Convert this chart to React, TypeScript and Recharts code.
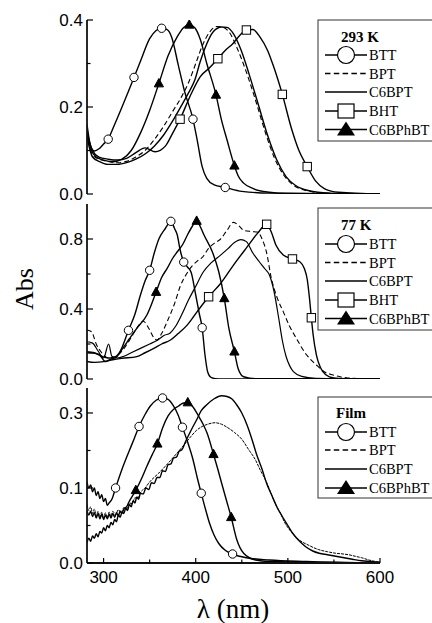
import React from 'react';
import { LineChart, Line, XAxis, YAxis } from 'recharts';

type P = [number, number];

// ---------- axes ----------
const X_DOMAIN: [number, number] = [282, 600];
const X_TICKS = [300, 350, 400, 450, 500, 550, 600];
const X_LABELS = ['300', '', '400', '', '500', '', '600'];

const Y1_TICKS = [0, 0.1, 0.2, 0.3, 0.4];
const Y1_LABELS = ['0.0', '', '0.2', '', '0.4'];
const Y2_TICKS = [0, 0.2, 0.4, 0.6, 0.8];
const Y2_LABELS = ['0.0', '', '0.4', '', '0.8'];
const Y3_TICKS = [0, 0.05, 0.1, 0.15, 0.2];
const Y3_LABELS = ['0.0', '', '0.1', '', '0.3'];

// ---------- 293 K ----------
const BTT_293: P[] = [[282,0.16],[286,0.11],[290,0.099],[295,0.104],[300,0.115],[305,0.126],[310,0.15],[320,0.2],[327,0.236],[333,0.268],[340,0.305],[350,0.357],[357,0.376],[363,0.381],[369,0.378],[374,0.36],[381,0.297],[388,0.235],[397,0.172],[401.5,0.125],[407,0.063],[412,0.036],[420,0.021],[432,0.015],[450,0.006],[480,0.002],[600,0]];
const BTT_293_MARKS = [305, 333, 363, 397, 432];
const BPT_293: P[] = [[282,0.14],[288,0.09],[295,0.08],[305,0.075],[315,0.072],[325,0.075],[335,0.085],[345,0.1],[355,0.125],[365,0.155],[375,0.19],[385,0.225],[392,0.255],[400,0.3],[408,0.345],[415,0.372],[423,0.385],[430,0.383],[437,0.37],[445,0.335],[455,0.28],[465,0.215],[475,0.145],[485,0.085],[495,0.045],[505,0.022],[520,0.008],[540,0.002],[600,0]];
const C6BPT_293: P[] = [[282,0.13],[288,0.085],[295,0.075],[305,0.068],[315,0.068],[325,0.072],[335,0.08],[345,0.092],[355,0.11],[365,0.135],[375,0.168],[385,0.205],[392,0.232],[399,0.262],[405,0.305],[410,0.335],[419,0.373],[428,0.384],[434,0.383],[441,0.368],[449,0.332],[458,0.275],[468,0.205],[478,0.135],[488,0.078],[498,0.04],[508,0.02],[522,0.008],[545,0.002],[600,0]];
const BHT_293: P[] = [[282,0.14],[288,0.1],[295,0.085],[305,0.08],[315,0.078],[325,0.082],[335,0.095],[345,0.106],[356,0.097],[367,0.11],[375,0.14],[383,0.172],[395,0.23],[405,0.27],[415,0.29],[424,0.311],[432,0.33],[440,0.345],[448,0.365],[455,0.377],[462,0.378],[470,0.36],[478,0.33],[485,0.29],[494,0.229],[504,0.15],[512,0.1],[521,0.063],[530,0.03],[540,0.012],[555,0.004],[600,0]];
const BHT_293_MARKS = [383, 424, 455, 494, 521];
const C6BPHBT_293: P[] = [[282,0.15],[286,0.105],[292,0.085],[300,0.078],[310,0.074],[320,0.08],[330,0.1],[340,0.14],[350,0.192],[360,0.254],[370,0.318],[380,0.362],[387,0.383],[393,0.389],[399,0.382],[405,0.355],[412,0.3],[422,0.228],[428,0.17],[434,0.124],[442,0.065],[446,0.042],[452,0.025],[463,0.012],[480,0.004],[500,0.001],[600,0]];
const C6BPHBT_293_MARKS = [360, 393, 422, 442];

// ---------- 77 K ----------
const BTT_77: P[] = [[282,0.15],[288,0.148],[295,0.14],[302,0.1],[308,0.115],[314,0.125],[320,0.18],[327,0.278],[334,0.37],[340,0.48],[345,0.56],[350,0.621],[355,0.72],[360,0.8],[367,0.86],[373,0.901],[377,0.86],[380,0.823],[383,0.74],[387,0.668],[391,0.64],[395,0.61],[400,0.48],[404,0.37],[407,0.293],[410,0.14],[413,0.04],[417,0.008],[425,0.001],[600,0]];
const BTT_77_MARKS = [327, 350, 373, 387, 407];
const BPT_77: P[] = [[282,0.28],[287,0.27],[292,0.2],[298,0.15],[305,0.12],[312,0.125],[320,0.16],[328,0.22],[336,0.29],[343,0.33],[349,0.29],[354,0.24],[358,0.222],[363,0.26],[370,0.34],[377,0.43],[383,0.527],[390,0.6],[396,0.645],[402,0.675],[408,0.7],[413,0.74],[420,0.775],[427,0.8],[434,0.85],[441,0.895],[447,0.875],[452,0.85],[460,0.843],[467,0.84],[472,0.8],[477,0.72],[482,0.577],[488,0.47],[495,0.385],[502,0.3],[509,0.234],[520,0.14],[531,0.08],[540,0.04],[549,0.023],[565,0.006],[600,0]];
const C6BPT_77: P[] = [[282,0.213],[288,0.205],[294,0.16],[300,0.12],[305.5,0.2],[309,0.13],[315,0.12],[322,0.13],[330,0.15],[340,0.175],[350,0.2],[358,0.22],[366,0.25],[372,0.262],[378,0.3],[385,0.37],[392,0.45],[400,0.53],[408,0.61],[417,0.665],[427,0.708],[435,0.745],[442,0.78],[449,0.797],[455,0.785],[462,0.72],[469,0.67],[475,0.63],[480,0.594],[485,0.5],[490,0.35],[494,0.22],[498,0.13],[502,0.075],[506,0.042],[515,0.015],[530,0.004],[600,0]];
const BHT_77: P[] = [[282,0.1],[290,0.095],[300,0.099],[310,0.11],[320,0.118],[336,0.128],[345,0.15],[354.5,0.175],[363,0.2],[372.6,0.223],[381,0.26],[390.7,0.308],[401.6,0.385],[414,0.47],[427,0.546],[441,0.651],[456,0.756],[467,0.832],[477,0.884],[482,0.84],[487,0.766],[495,0.709],[505,0.686],[513,0.67],[518,0.63],[521,0.57],[523.5,0.46],[525.5,0.35],[527.5,0.25],[531,0.137],[535,0.07],[538,0.042],[545,0.012],[555,0.003],[600,0]];
const BHT_77_MARKS = [414, 477, 505, 525.5];
const C6BPHBT_77: P[] = [[282,0.156],[290,0.15],[298,0.13],[305,0.12],[312,0.125],[320,0.17],[328,0.23],[336,0.289],[347,0.366],[357,0.497],[363,0.58],[369,0.632],[375,0.69],[380,0.727],[386,0.77],[391,0.823],[396,0.87],[401,0.903],[405,0.87],[409,0.823],[418,0.727],[425,0.613],[431,0.461],[436,0.289],[442,0.156],[446,0.06],[452,0.013],[465,0.002],[600,0]];
const C6BPHBT_77_MARKS = [357, 401, 431, 442];

// ---------- Film ----------
const BTT_F: P[] = [[282,0.108],[284,0.1],[286,0.104],[288,0.095],[290,0.1],[292,0.09],[294,0.095],[296,0.086],[298,0.091],[300,0.082],[302,0.086],[304,0.077],[306,0.08],[309,0.085],[313,0.1],[320,0.125],[327,0.147],[333,0.165],[338.5,0.182],[345,0.198],[350.5,0.209],[357,0.217],[364,0.22],[370,0.218],[376,0.209],[381,0.197],[385.6,0.181],[391,0.162],[397,0.138],[402,0.112],[406,0.093],[411,0.07],[415,0.053],[420,0.037],[425,0.026],[432,0.017],[440,0.012],[455,0.007],[480,0.004],[520,0.002],[600,0]];
const BTT_F_MARKS = [313, 338.5, 364, 385.6, 406, 440];
const C6BPT_F: P[] = [[282,0.027],[284,0.033],[286,0.029],[288,0.036],[290,0.033],[292,0.039],[294,0.035],[296,0.042],[298,0.04],[300,0.047],[302,0.043],[304,0.05],[306,0.047],[308,0.054],[310,0.051],[312,0.058],[314,0.055],[316,0.064],[318,0.061],[320,0.068],[322,0.066],[324,0.073],[326,0.07],[328,0.078],[330,0.075],[332,0.083],[334,0.08],[336,0.088],[338,0.085],[340,0.093],[343,0.092],[346,0.1],[349,0.098],[352,0.107],[355,0.106],[358,0.114],[361,0.114],[364,0.123],[367,0.122],[370,0.131],[373,0.132],[376,0.14],[379,0.141],[382,0.149],[385,0.151],[389,0.162],[395,0.177],[401,0.191],[406,0.203],[412,0.211],[420,0.219],[428,0.223],[434,0.222],[439,0.219],[445,0.21],[450,0.2],[456,0.183],[461,0.165],[466,0.145],[472,0.125],[477,0.106],[483,0.089],[488,0.075],[494,0.062],[500,0.05],[505,0.04],[512,0.03],[519,0.022],[527,0.016],[534,0.013],[543,0.011],[552,0.009],[561,0.007],[570,0.005],[580,0.003],[590,0.002],[600,0.001]];
const BPT_F: P[] = [[282,0.078],[284,0.07],[286,0.075],[288,0.066],[290,0.072],[292,0.063],[294,0.069],[296,0.061],[298,0.068],[300,0.06],[302,0.067],[304,0.06],[306,0.068],[308,0.062],[310,0.069],[313,0.064],[316,0.071],[319,0.067],[322,0.074],[325,0.072],[328,0.08],[331,0.079],[334,0.087],[337,0.086],[340,0.094],[345,0.1],[350,0.108],[360,0.12],[370,0.133],[380,0.147],[389,0.16],[395,0.169],[401,0.177],[407,0.182],[413,0.185],[421,0.187],[428,0.185],[434,0.181],[442,0.174],[450,0.165],[457,0.152],[465,0.137],[470,0.124],[476,0.11],[481,0.095],[486,0.08],[492,0.066],[497,0.053],[504,0.041],[512,0.031],[522,0.024],[533,0.018],[543,0.015],[552,0.013],[560,0.012],[566,0.011],[573,0.009],[580,0.007],[588,0.004],[595,0.002],[600,0.001]];
const C6BPHBT_F: P[] = [[282,0.07],[284,0.064],[286,0.069],[288,0.062],[290,0.067],[292,0.06],[294,0.066],[296,0.059],[298,0.065],[300,0.058],[302,0.064],[304,0.059],[306,0.065],[308,0.06],[310,0.066],[312,0.061],[314,0.067],[316,0.063],[318,0.069],[320,0.066],[322,0.072],[325,0.075],[327,0.08],[335,0.097],[341,0.112],[347,0.129],[353,0.145],[358.4,0.159],[364,0.18],[370,0.196],[376,0.205],[381,0.209],[386,0.213],[391.4,0.214],[397,0.208],[403,0.196],[408,0.185],[412.4,0.173],[419.3,0.145],[424,0.125],[428,0.107],[433,0.085],[438.5,0.061],[444.6,0.031],[452,0.013],[465,0.004],[480,0.002],[600,0]];
const C6BPHBT_F_MARKS = [335, 358.4, 391.4, 419.3, 438.5];

// ---------- rendering ----------
type Shape = 'circle' | 'square' | 'triangle' | null;
interface Series { name: string; data: P[]; marks: number[]; shape: Shape; dash?: string; width?: number; }

const SANS = 'Liberation Sans, Arial, Helvetica, sans-serif';
const SERIF = 'Liberation Serif, Times New Roman, serif';

function Marker({ shape, cx, cy, s }: { shape: Shape; cx: number; cy: number; s: number }) {
  if (shape === 'circle') return <circle cx={cx} cy={cy} r={s} fill="#fff" stroke="#000" strokeWidth={1} />;
  if (shape === 'square') return <rect x={cx - s} y={cy - s} width={2 * s} height={2 * s} fill="#fff" stroke="#000" strokeWidth={1} />;
  if (shape === 'triangle') {
    const h = s * 2;
    return <polygon points={`${cx},${cy - h * 0.6} ${cx - s * 1.1},${cy + h * 0.4} ${cx + s * 1.1},${cy + h * 0.4}`} fill="#000" stroke="#000" strokeWidth={1} />;
  }
  return null;
}

const makeDot = (marks: number[], shape: Shape) => (props: any) => {
  const { cx, cy, payload, index } = props;
  if (!shape || cx == null || cy == null || !marks.includes(payload.x)) return <g key={`d${index}`} />;
  return <g key={`d${index}`}><Marker shape={shape} cx={cx} cy={cy} s={4.2} /></g>;
};

const xTick = (showLabels: boolean, inward: number) => (props: any) => {
  const { x, y, payload } = props;
  const i = X_TICKS.indexOf(payload.value);
  const lab = X_LABELS[i];
  const len = lab ? 5 : 3.5;
  return (
    <g key={`xt${payload.value}`}>
      <line x1={x} y1={y} x2={x} y2={y + inward * len} stroke="#000" strokeWidth={1.2} />
      {showLabels && lab ? (
        <text x={x} y={y + 19.5} textAnchor="middle" fontFamily={SANS} fontSize={17} fill="#000">{lab}</text>
      ) : null}
    </g>
  );
};

const yTick = (ticks: number[], labels: string[], showLabels: boolean, inward: number) => (props: any) => {
  const { x, y, payload } = props;
  const i = ticks.indexOf(payload.value);
  const lab = labels[i];
  const len = lab ? 6 : 3.5;
  return (
    <g key={`yt${payload.value}`}>
      <line x1={x} y1={y} x2={x + inward * len} y2={y} stroke="#000" strokeWidth={1.2} />
      {showLabels && lab ? (
        <text x={x - 4} y={y + 6} textAnchor="end" fontFamily={SANS} fontSize={17} fill="#000">{lab}</text>
      ) : null}
    </g>
  );
};

interface PanelProps {
  top: number; height: number; mt: number; mb: number; xh: number;
  yDomain: [number, number]; yTicks: number[]; yLabels: string[];
  series: Series[]; showX: boolean;
}

const AXIS_LINE = { stroke: '#111', strokeWidth: 1.8 };

function Panel({ top, height, mt, mb, xh, yDomain, yTicks, yLabels, series, showX }: PanelProps) {
  return (
    <div style={{ position: 'absolute', left: 0, top }}>
      <LineChart width={432} height={height} margin={{ top: mt, right: 52, bottom: mb, left: 0 }}>
        <XAxis xAxisId="b" type="number" dataKey="x" domain={X_DOMAIN} ticks={X_TICKS} interval={0}
          allowDataOverflow orientation="bottom" height={xh} tickSize={0} tickMargin={0} tickLine={false}
          axisLine={AXIS_LINE} tick={xTick(showX, -1)} />
        <XAxis xAxisId="t" type="number" dataKey="x" domain={X_DOMAIN} ticks={X_TICKS} interval={0}
          allowDataOverflow orientation="top" height={0} tickSize={0} tickMargin={0} tickLine={false}
          axisLine={AXIS_LINE} tick={xTick(false, 1)} />
        <YAxis yAxisId="l" type="number" domain={yDomain} ticks={yTicks} interval={0} allowDataOverflow
          width={87} tickSize={0} tickMargin={0} tickLine={false} axisLine={AXIS_LINE}
          tick={yTick(yTicks, yLabels, true, 1)} />
        <YAxis yAxisId="r" orientation="right" type="number" domain={yDomain} ticks={yTicks} interval={0}
          allowDataOverflow width={0} tickSize={0} tickMargin={0} tickLine={false} axisLine={AXIS_LINE}
          tick={yTick(yTicks, yLabels, false, -1)} />
        {series.map((s) => (
          <Line key={s.name} xAxisId="b" yAxisId="l" data={s.data.map(([x, y]) => ({ x, y }))} dataKey="y"
            type="monotone" stroke="#000" strokeWidth={s.width ?? 1.4} strokeDasharray={s.dash}
            dot={makeDot(s.marks, s.shape)} activeDot={false} isAnimationActive={false} />
        ))}
      </LineChart>
    </div>
  );
}

const S293: Series[] = [
  { name: 'BPT', data: BPT_293, marks: [], shape: null, dash: '5 3', width: 1.1 },
  { name: 'C6BPT', data: C6BPT_293, marks: [], shape: null },
  { name: 'BHT', data: BHT_293, marks: BHT_293_MARKS, shape: 'square' },
  { name: 'C6BPhBT', data: C6BPHBT_293, marks: C6BPHBT_293_MARKS, shape: 'triangle' },
  { name: 'BTT', data: BTT_293, marks: BTT_293_MARKS, shape: 'circle' },
];
const S77: Series[] = [
  { name: 'BPT', data: BPT_77, marks: [], shape: null, dash: '5 3', width: 1.1 },
  { name: 'C6BPT', data: C6BPT_77, marks: [], shape: null, width: 1.2 },
  { name: 'BHT', data: BHT_77, marks: BHT_77_MARKS, shape: 'square' },
  { name: 'C6BPhBT', data: C6BPHBT_77, marks: C6BPHBT_77_MARKS, shape: 'triangle' },
  { name: 'BTT', data: BTT_77, marks: BTT_77_MARKS, shape: 'circle' },
];
const SF: Series[] = [
  { name: 'BPT', data: BPT_F, marks: [], shape: null, dash: '3 1', width: 1.0 },
  { name: 'C6BPT', data: C6BPT_F, marks: [], shape: null, width: 1.4 },
  { name: 'C6BPhBT', data: C6BPHBT_F, marks: C6BPHBT_F_MARKS, shape: 'triangle' },
  { name: 'BTT', data: BTT_F, marks: BTT_F_MARKS, shape: 'circle' },
];

interface Row { label: string; shape: Shape; dash?: string; y: number; }

function LegendBox({ x, y, w, h, title, tx, ty, rows }: { x: number; y: number; w: number; h: number; title: string; tx: number; ty: number; rows: Row[] }) {
  return (
    <g>
      <rect x={x} y={y} width={w} height={h} fill="#fff" stroke="#333" strokeWidth={1} />
      <text x={tx} y={ty} fontFamily={SERIF} fontWeight="bold" fontSize={15} fill="#000">{title}</text>
      {rows.map((r) => (
        <g key={r.label}>
          <line x1={325} y1={r.y} x2={367} y2={r.y} stroke="#000" strokeWidth={1.6} strokeDasharray={r.dash} />
          {r.shape === 'circle' && <circle cx={346} cy={r.y} r={8.5} fill="#fff" stroke="#000" strokeWidth={1.2} />}
          {r.shape === 'square' && <rect x={338} y={r.y - 7} width={16} height={14} fill="#fff" stroke="#000" strokeWidth={1.2} />}
          {r.shape === 'triangle' && <polygon points={`346,${r.y - 8} 337,${r.y + 6} 355,${r.y + 6}`} fill="#000" />}
          <text x={369} y={r.y + 5} fontFamily={SERIF} fontSize={14.5} fill="#000">{r.label}</text>
        </g>
      ))}
    </g>
  );
}

const rows5 = (ys: number[]): Row[] => [
  { label: 'BTT', shape: 'circle', y: ys[0] },
  { label: 'BPT', shape: null, dash: '5.5 3.3', y: ys[1] },
  { label: 'C6BPT', shape: null, y: ys[2] },
  { label: 'BHT', shape: 'square', y: ys[3] },
  { label: 'C6BPhBT', shape: 'triangle', y: ys[4] },
];
const rows4 = (ys: number[]): Row[] => [
  { label: 'BTT', shape: 'circle', y: ys[0] },
  { label: 'BPT', shape: null, dash: '5.5 3.3', y: ys[1] },
  { label: 'C6BPT', shape: null, y: ys[2] },
  { label: 'C6BPhBT', shape: 'triangle', y: ys[3] },
];

export default function App() {
  return (
    <div style={{ position: 'absolute', left: 0, top: 0, width: 432, height: 623, overflow: 'hidden', background: '#fff' }}>
      <Panel top={0} height={212} mt={20} mb={18} xh={0} yDomain={[0, 0.4]} yTicks={Y1_TICKS} yLabels={Y1_LABELS} series={S293} showX={false} />
      <Panel top={196} height={195} mt={8} mb={12} xh={0} yDomain={[0, 1.0]} yTicks={Y2_TICKS} yLabels={Y2_LABELS} series={S77} showX={false} />
      <Panel top={380} height={243} mt={8} mb={30} xh={30} yDomain={[0, 0.2333]} yTicks={Y3_TICKS} yLabels={Y3_LABELS} series={SF} showX={true} />
      <svg width={432} height={623} style={{ position: 'absolute', left: 0, top: 0, pointerEvents: 'none' }}>
        <LegendBox x={318} y={20} w={120} h={121} title="293 K" tx={341} ty={42} rows={rows5([55, 73.5, 92, 111, 129.5])} />
        <LegendBox x={318} y={208} w={120} h={122} title="77 K" tx={341} ty={230} rows={rows5([244, 262.5, 281, 300, 318.5])} />
        <LegendBox x={318} y={397} w={120} h={101} title="Film" tx={336} ty={418} rows={rows4([432, 450, 469, 488])} />
        <text transform="translate(33,289) rotate(-90)" textAnchor="middle" fontFamily={SERIF} fontSize={26} fill="#000">Abs</text>
        <text x={233} y={618} textAnchor="middle" fontFamily={SERIF} fontSize={27} fill="#000">λ (nm)</text>
      </svg>
    </div>
  );
}
